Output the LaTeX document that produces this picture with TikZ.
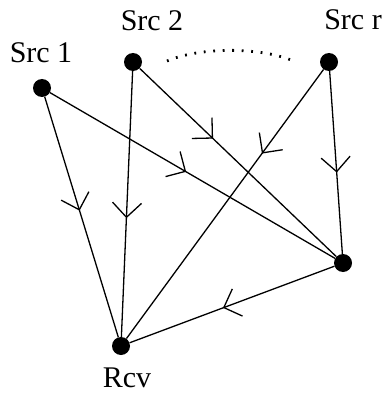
\documentclass[tikz,border=0pt]{standalone}
\usepackage{fontspec}
\setmainfont{Liberation Serif}
\usetikzlibrary{decorations.markings}
\begin{document}
\begin{tikzpicture}[x=1pt,y=-1pt,
  station/.style={circle,fill=black,inner sep=0pt,minimum size=18pt},
  lbl/.style={font=\fontsize{30}{36}\selectfont,inner sep=0pt,anchor=base},
  link/.style={line width=1.3pt},
  flow/.style={link,postaction={decorate},
    decoration={markings,mark=at position #1 with
      {\draw[line width=1.3pt] (-14.5pt,14.5pt) -- (0pt,0pt) -- (-14.5pt,-14.5pt);}}}
]
\useasboundingbox (0,0) rectangle (385,393);

% stations
\node[station] (s1)  at (42,88)  {};
\node[station] (s2)  at (133,62) {};
\node[station] (sr)  at (329,62) {};
\node[station] (hub) at (343,263) {};
\node[station] (rcv) at (121,346) {};

% labels
\node[lbl] (l1)  at (41,63)  {Src 1};
\node[lbl] (l2)  at (152,31) {Src 2};
\node[lbl] (lr)  at (353,30) {Src r};
\node[lbl] (lrc) at (127,387) {Rcv};

% the sources in between
\coordinate (d1) at (167,61);
\coordinate (d2) at (291,60);
\draw[line width=2.8pt,dash pattern=on 1.8pt off 7.7pt]
  (d1) .. controls (200,47) and (258,47) .. (d2);

% links with flow direction
\draw[flow=0.47]  (s1) -- (rcv);
\draw[flow=0.475] (s1) -- (hub);
\draw[flow=0.55]  (s2) -- (rcv);
\draw[flow=0.37]  (s2) -- (hub);
\draw[flow=0.31]  (sr) -- (rcv);
\draw[flow=0.55]  (sr) -- (hub);
\draw[flow=0.54]  (hub) -- (rcv);
\end{tikzpicture}
\end{document}
